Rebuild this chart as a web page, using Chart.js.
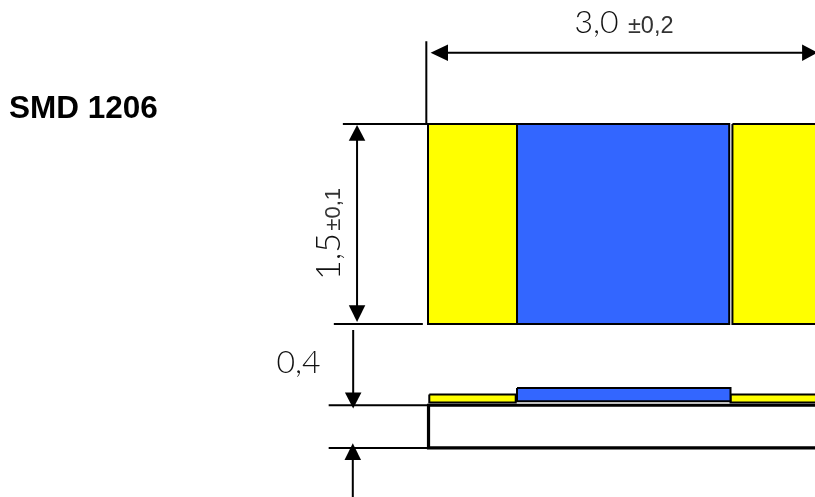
<!DOCTYPE html>
<html>
<head>
<meta charset="utf-8">
<title>SMD 1206</title>
<script src="https://cdn.jsdelivr.net/npm/chart.js@4"></script>
<style>
  html, body { margin: 0; padding: 0; background: #fff; overflow: hidden; }
  #wrap { position: relative; width: 815px; height: 497px; }
</style>
</head>
<body>
<div id="wrap"><canvas id="chart"></canvas></div>
<script>
// all values in mm, measured from the top left corner of the part
const titleText = "SMD 1206"
const lengthText = ["3,0", "±0,2"]
const widthText = ["1,5", "±0,1"]
const heightText = "0,4"

// top view
const padLeftX = [0, 0.69, 0.69, 0, 0]
const padLeftY = [0, 0, 1.5, 1.5, 0]
const resistX = [0.69, 2.335, 2.335, 0.69, 0.69]
const resistY = [0, 0, 1.5, 1.5, 0]
const padRightX = [2.36, 3.1, 3.1, 2.36, 2.36]
const padRightY = [0, 0, 1.5, 1.5, 0]

// side view
const sidePadLeftX = [0.01, 0.68, 0.68, 0.01, 0.01]
const sidePadLeftY = [2.03, 2.03, 2.09, 2.09, 2.03]
const sideResistX = [0.69, 2.345, 2.345, 0.69, 0.69]
const sideResistY = [1.98, 1.98, 2.08, 2.08, 1.98]
const sidePadRightX = [2.345, 3.1, 3.1, 2.345, 2.345]
const sidePadRightY = [2.03, 2.03, 2.09, 2.09, 2.03]
const bodyX = [3.1, 0.004, 0.004, 3.1]
const bodyY = [2.11, 2.11, 2.43, 2.43]

// dimension lines
const thinLines = [
  { x: [-0.013, -0.013], y: [-0.62, 0] },
  { x: [-0.66, 0], y: [0, 0] },
  { x: [-0.73, -0.04], y: [1.5, 1.5] },
  { x: [-0.77, 0], y: [2.11, 2.11] },
  { x: [-0.77, 0], y: [2.43, 2.43] },
]
const arrowLines = [
  { x: [0.12, 3.1], y: [-0.535, -0.535] },
  { x: [-0.55, -0.55], y: [0.1, 1.38] },
  { x: [-0.58, -0.58], y: [1.545, 2.03] },
  { x: [-0.583, -0.583], y: [2.5, 2.8] },
]
const arrowHeads = [
  { x: [0.02, 0.155, 0.155, 0.02], y: [-0.535, -0.597, -0.473, -0.535] },
  { x: [3.02, 2.9, 2.9, 3.02], y: [-0.535, -0.597, -0.473, -0.535] },
  { x: [-0.55, -0.614, -0.486, -0.55], y: [0.0075, 0.125, 0.125, 0.0075] },
  { x: [-0.55, -0.614, -0.486, -0.55], y: [1.485, 1.36, 1.36, 1.485] },
  { x: [-0.58, -0.644, -0.516, -0.58], y: [2.135, 2.015, 2.015, 2.135] },
  { x: [-0.583, -0.647, -0.519, -0.583], y: [2.395, 2.52, 2.52, 2.395] },
]

const toPoints = (xs, ys) => xs.map((x, i) => ({ x, y: ys[i] }))

const box = (xs, ys, color) => ({
  data: toPoints(xs, ys),
  showLine: true,
  fill: "shape",
  backgroundColor: color,
  borderColor: "#000",
  borderWidth: 2,
  pointRadius: 0,
  tension: 0,
})

const line = (l, width) => ({
  data: toPoints(l.x, l.y),
  showLine: true,
  fill: false,
  borderColor: "#000",
  borderWidth: width,
  pointRadius: 0,
  tension: 0,
})

const head = (h) => ({
  data: toPoints(h.x, h.y),
  showLine: true,
  fill: "shape",
  backgroundColor: "#000",
  borderWidth: 0,
  pointRadius: 0,
  tension: 0,
})

// text goes through the scales too, so it stays with the drawing
const labels = {
  id: "labels",
  afterDraw(chart) {
    const { ctx, scales: { x, y } } = chart
    const put = (text, vx, vy, font, color, angle) => {
      ctx.save()
      ctx.translate(x.getPixelForValue(vx), y.getPixelForValue(vy))
      ctx.rotate(angle || 0)
      ctx.font = font
      ctx.fillStyle = color
      ctx.textBaseline = "alphabetic"
      ctx.fillText(text, 0, 0)
      ctx.restore()
    }
    const big = '300 32px Lato, "Open Sans", sans-serif'
    const tall = '300 34px Lato, "Open Sans", sans-serif'
    const small = '23.5px "Liberation Sans", Arial, sans-serif'
    put(titleText, -3.248, -0.045, 'bold 31.5px "Liberation Sans", Arial, sans-serif', "#000")
    put(lengthText[0], 1.135, -0.683, big, "#111")
    put(lengthText[1], 1.55, -0.683, small, "#333")
    put(widthText[0], -0.682, 1.17, tall, "#111", -Math.PI / 2)
    put(widthText[1], -0.682, 0.8, '22px "Liberation Sans", Arial, sans-serif', "#333", -Math.PI / 2)
    put(heightText, -1.175, 1.868, big, "#111")
  },
}

new Chart(document.getElementById("chart"), {
  type: "scatter",
  data: {
    datasets: [
      box(padLeftX, padLeftY, "#ffff00"),
      box(resistX, resistY, "#3366ff"),
      box(padRightX, padRightY, "#ffff00"),
      box(sidePadLeftX, sidePadLeftY, "#ffff00"),
      box(sideResistX, sideResistY, "#3366ff"),
      box(sidePadRightX, sidePadRightY, "#ffff00"),
      line({ x: bodyX, y: bodyY }, 3.2),
      ...thinLines.map(l => line(l, 2)),
      ...arrowLines.map(l => line(l, 2)),
      ...arrowHeads.map(head),
    ],
  },
  options: {
    responsive: true,
    maintainAspectRatio: false,
    animation: false,
    events: [],
    layout: { padding: 0 },
    plugins: { legend: { display: false }, tooltip: { enabled: false } },
    scales: {
      x: { type: "linear", display: false, min: -428 / 129, max: 387 / 129 },
      y: { type: "linear", display: false, reverse: true, min: -124 / 133.3, max: 373 / 133.3 },
    },
  },
  plugins: [labels],
})
</script>
</body>
</html>
